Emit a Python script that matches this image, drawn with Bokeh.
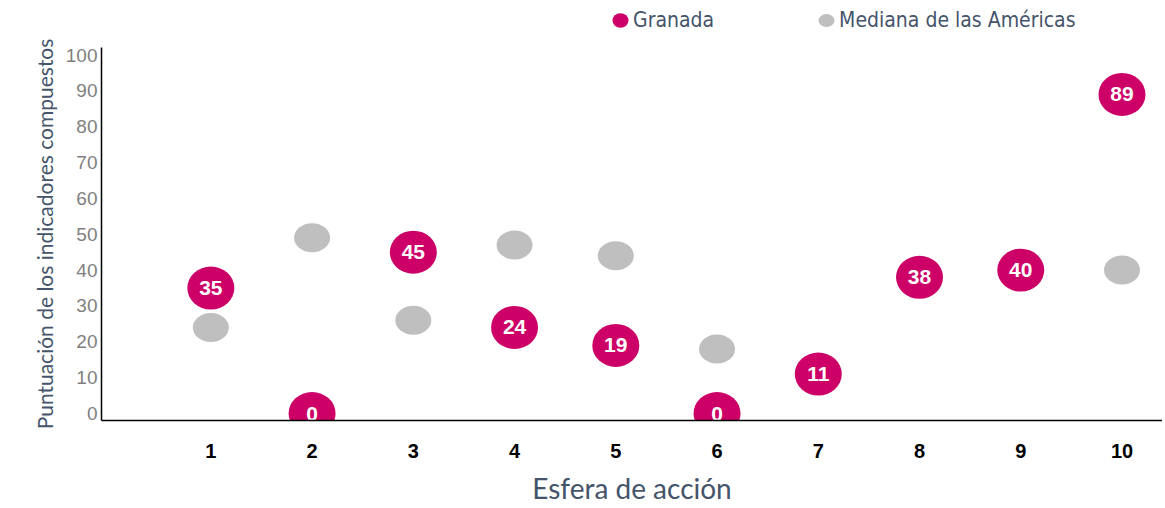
from bokeh.plotting import figure
from bokeh.layouts import column
from bokeh.models import ColumnDataSource, Range1d, FixedTicker, Legend, LegendItem
from bokeh.core.properties import value
from bokeh.embed import file_html
from bokeh.resources import INLINE

# ---- data ----
spheres = [1, 2, 3, 4, 5, 6, 7, 8, 9, 10]
granada = [35, 0, 45, 24, 19, 0, 11, 38, 40, 89]
median_americas = [24, 49, 26, 47, 44, 18, 11, 38, 40, 40]
granada_labels = [str(v) for v in granada]
y_ticks = [0, 10, 20, 30, 40, 50, 60, 70, 80, 90, 100]
series_names = ["Granada", "Mediana de las Américas"]

PINK = "#CC0066"
GRAY = "#BFBFBF"
SLATE = "#44546A"
NAN = float("nan")

src = ColumnDataSource(dict(x=spheres, g=granada, m=median_americas, lbl=granada_labels))

# ---- legend header ----
h = figure(width=1162, height=33, output_backend="svg", toolbar_location=None,
           x_range=Range1d(0, 1), y_range=Range1d(0, 1), x_axis_type=None, y_axis_type=None,
           min_border=0, min_border_left=0, min_border_right=0, min_border_top=0, min_border_bottom=0)
h.outline_line_color = None
h.xgrid.grid_line_color = None
h.ygrid.grid_line_color = None
lg_g = h.ellipse(x=[NAN], y=[NAN], width=47, height=43, width_units="screen", height_units="screen",
                 fill_color=PINK, line_color=None)
lg_m = h.ellipse(x=[NAN], y=[NAN], width=36, height=29, width_units="screen", height_units="screen",
                 fill_color=GRAY, line_color=None)
legend = Legend(items=[LegendItem(label=series_names[0], renderers=[lg_g]),
                       LegendItem(label=series_names[1], renderers=[lg_m])],
                orientation="horizontal", location=(507, 1),
                padding=0, margin=0, spacing=100, border_line_color=None,
                background_fill_alpha=0, glyph_width=24, glyph_height=20, label_standoff=1,
                label_text_font="'Liberation Sans Narrow', 'DejaVu Sans Condensed', sans-serif",
                label_text_font_size="21px", label_text_color=SLATE)
h.add_layout(legend)

# ---- main chart ----
p = figure(width=1162, height=475, output_backend="svg", toolbar_location=None,
           x_range=Range1d(-0.08, 10.40), y_range=Range1d(-1.95, 102.1),
           min_border_left=101, min_border_right=0, min_border_top=14, min_border_bottom=88)
p.outline_line_color = None
p.xgrid.grid_line_color = None
p.ygrid.grid_line_color = None
p.background_fill_color = "white"

r_m = p.ellipse(x="x", y="m", width=36, height=29, width_units="screen", height_units="screen",
                source=src, fill_color=GRAY, line_color=None)
r_g = p.ellipse(x="x", y="g", width=47, height=43, width_units="screen", height_units="screen",
                source=src, fill_color=PINK, line_color=None)
p.text(x="x", y="g", text="lbl", source=src, text_align="center", text_baseline="middle",
       text_color="white", text_font=value("Liberation Sans"), text_font_style="bold",
       text_font_size="21px")

xa = p.xaxis[0]
xa.ticker = FixedTicker(ticks=spheres)
xa.axis_line_color = "black"
xa.axis_line_width = 1.5
xa.major_tick_line_color = None
xa.minor_tick_line_color = None
xa.major_tick_in = 0
xa.major_tick_out = 0
xa.major_label_standoff = 23
xa.major_label_text_font = "Liberation Sans"
xa.major_label_text_font_style = "bold"
xa.major_label_text_font_size = "20px"
xa.major_label_text_color = "black"
xa.axis_label = "Esfera de acción"
xa.axis_label_text_font = "Lato"
xa.axis_label_text_font_style = "normal"
xa.axis_label_text_font_size = "28px"
xa.axis_label_text_color = SLATE
xa.axis_label_standoff = 10

ya = p.yaxis[0]
ya.ticker = FixedTicker(ticks=y_ticks)
ya.axis_line_color = "black"
ya.axis_line_width = 1.5
ya.major_tick_line_color = None
ya.minor_tick_line_color = None
ya.major_tick_in = 0
ya.major_tick_out = 0
ya.major_label_standoff = 4
ya.major_label_text_font = "Liberation Sans"
ya.major_label_text_font_size = "19px"
ya.major_label_text_color = "#7F7F7F"
ya.axis_label = "Puntuación de los indicadores compuestos"
ya.axis_label_text_font = "Lato"
ya.axis_label_text_font_style = "normal"
ya.axis_label_text_font_size = "21px"
ya.axis_label_text_color = SLATE
ya.axis_label_standoff = 6

layout = column(h, p, spacing=0)
open("out.html", "w").write(file_html(layout, INLINE))
